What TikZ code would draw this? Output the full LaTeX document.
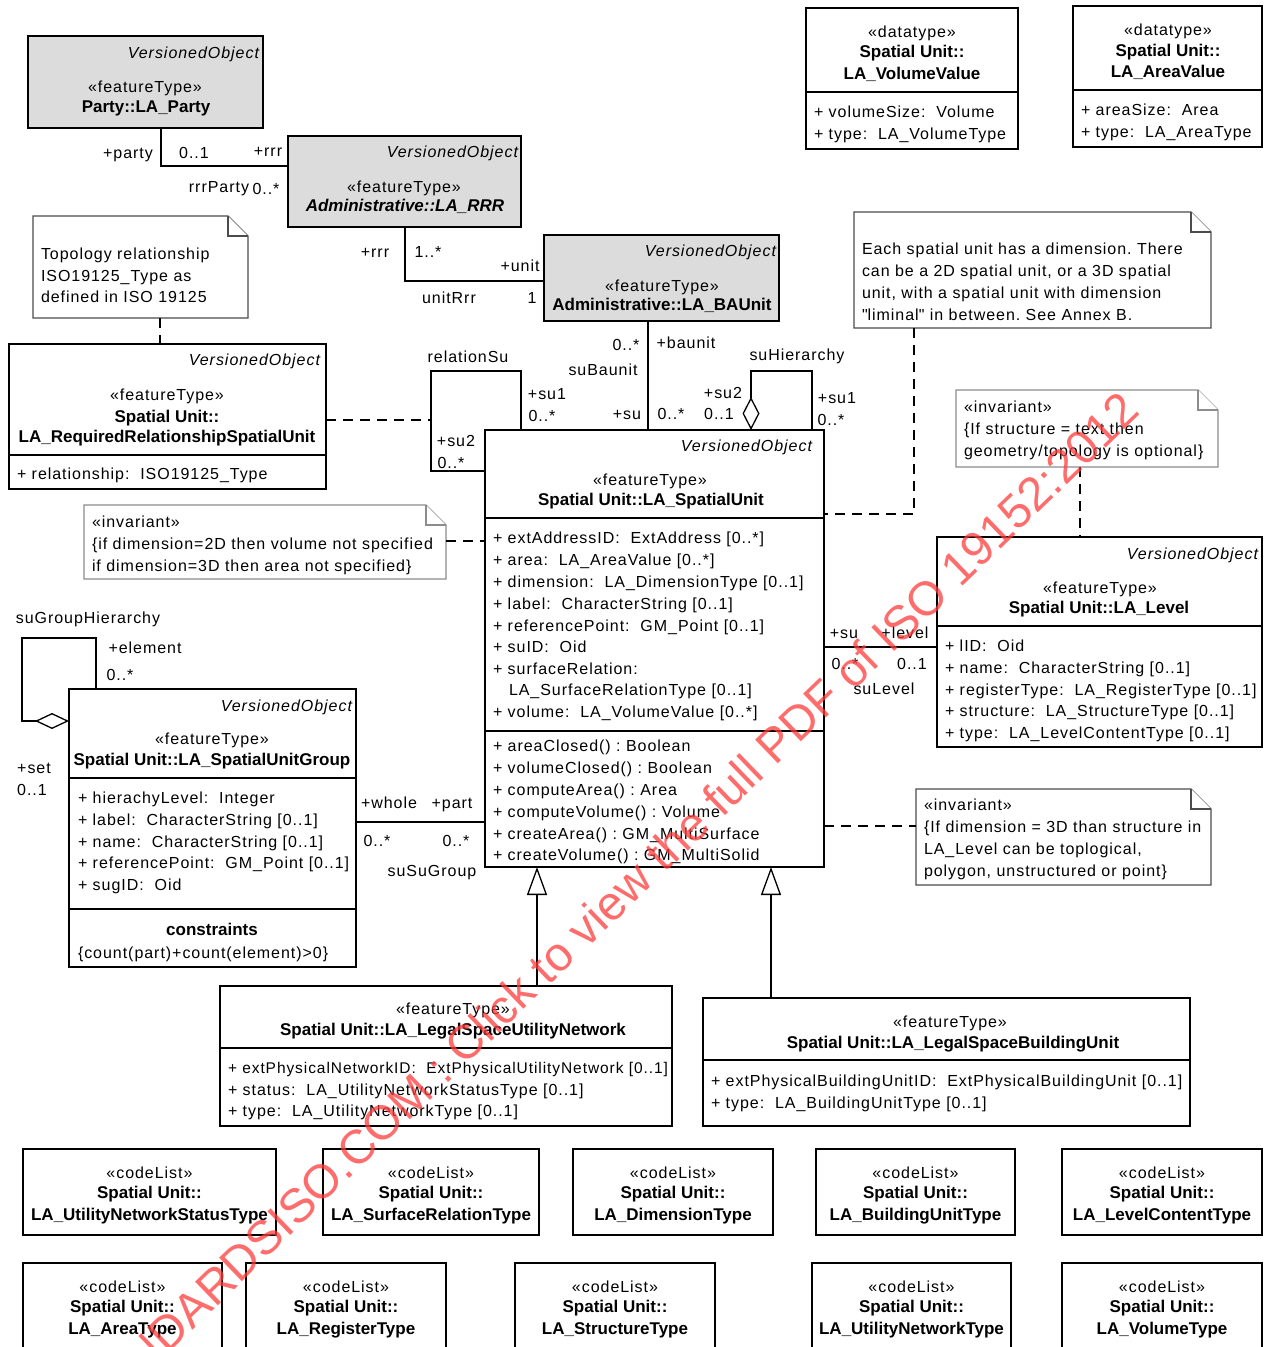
\documentclass[tikz,border=0pt]{standalone}
\usepackage{fontspec}
\setmainfont{Liberation Sans}[LetterSpace=6,BoldFeatures={LetterSpace=0},BoldItalicFeatures={LetterSpace=0}]
\newfontfamily\wmfont{Liberation Sans}
\newfontfamily\qfont{Liberation Sans}[LetterSpace=6]
\usetikzlibrary{arrows.meta}
\definecolor{gfill}{RGB}{220,220,220}
\definecolor{wmred}{RGB}{255,60,60}
\frenchspacing
\newcount\tno
\newcommand\Tx[4][]{\global\advance\tno by 1\relax\node[tx,#1] (t\the\tno) at ({#2},{#3+6}) {#4};}
\newcommand\Bx[6][]{\node[box,#1,minimum width={#4-#2},minimum height={#5-#3}] (#6) at (#2,#3) {};}
\newcommand\Sep[2]{\draw[ln] (#1.west |- 0,#2) -- (#1.east |- 0,#2);}
\newcommand\Nt[6][]{%
 \draw[note,#1] (#2,#3) -- ({#4-20},#3) -- (#4,{#3+20}) -- (#4,#5) -- (#2,#5) -- cycle;
 \draw[note,#1] ({#4-20},#3) -- ({#4-20},{#3+20}) -- (#4,{#3+20});
 \node[inner sep=0,outer sep=0,anchor=north west,minimum width={#4-#2},minimum height={#5-#3}] (#6) at (#2,#3) {};}
\newcommand\Cd[6]{%
 \Bx{#1}{#2}{#3}{#4}{#5}
 \Tx{(#1+#3)/2}{#2+23}{«codeList»}
 \Tx[bld]{(#1+#3)/2}{#2+43}{Spatial Unit::}
 \Tx[bld]{(#1+#3)/2}{#2+65}{#6}}
\newcommand\dq{{\qfont\symbol{34}}}
\begin{document}
\begin{tikzpicture}[x=1pt,y=-1pt,
  tx/.style={inner sep=0,outer sep=0,anchor=base,font=\fontsize{16}{18}\selectfont},
  lft/.style={anchor=base west},
  rgt/.style={anchor=base east},
  bld/.style={font=\fontsize{17}{18}\selectfont\bfseries},
  itl/.style={font=\fontsize{16}{18}\selectfont\itshape},
  bit/.style={font=\fontsize{17}{18}\selectfont\bfseries\itshape},
  sml/.style={font=\fontsize{15.5}{18}\selectfont},
  ln/.style={line width=1.3pt,draw=black},
  box/.style={draw=black,line width=1.3pt,inner sep=0,outer sep=0,anchor=north west,fill=white},
  gbox/.style={fill=gfill},
  note/.style={line width=1.3pt,draw=black!70,fill=white},
  lnote/.style={draw=black!45},
  dsh/.style={line width=1.3pt,dash pattern=on 10pt off 7pt},
  gen/.style={ln,-{Triangle[open,fill=white,length=28pt,width=20pt]}},
  agg/.style={ln,{Diamond[open,fill=white,length=33pt,width=17pt]}-}
]
\useasboundingbox (0,0) rectangle (1271,1347);
\fill[white] (0,0) rectangle (1271,1347);
\begin{scope}
\clip (0,0) rectangle (1271,1347);

% ---------- LA_Party
\Bx[gbox]{28}{36}{263}{128}{party}
\Tx[itl,rgt]{259}{52}{VersionedObject}
\Tx{145}{86}{«featureType»}
\Tx[bld]{146}{106}{Party::LA\_Party}

% ---------- LA_RRR
\Bx[gbox]{288}{136}{521}{227}{rrr}
\Tx[itl,rgt]{518}{151}{VersionedObject}
\Tx{404}{186}{«featureType»}
\Tx[bit]{405}{205}{Administrative::LA\_RRR}

% ---------- LA_BAUnit
\Bx[gbox]{544}{235}{779}{321}{bau}
\Tx[itl,rgt]{776}{250}{VersionedObject}
\Tx{662}{285}{«featureType»}
\Tx[bld]{662}{304}{Administrative::LA\_BAUnit}

% ---------- datatypes
\Bx{806}{8}{1018}{149}{vol}
\Sep{vol}{92}
\Tx{912}{31}{«datatype»}
\Tx[bld]{912}{51}{Spatial Unit::}
\Tx[bld]{912}{73}{LA\_VolumeValue}
\Tx[lft]{814}{111}{+ volumeSize:~ Volume}
\Tx[lft]{814}{133}{+ type:~ LA\_VolumeType}

\Bx{1073}{6}{1262}{147}{area}
\Sep{area}{90}
\Tx{1168}{29}{«datatype»}
\Tx[bld]{1168}{50}{Spatial Unit::}
\Tx[bld]{1168}{71}{LA\_AreaValue}
\Tx[lft]{1081}{109}{+ areaSize:~ Area}
\Tx[lft]{1081}{131}{+ type:~ LA\_AreaType}

% ---------- notes
\Nt{33}{216}{248}{318}{topo}
\Tx[lft]{41}{253}{Topology relationship}
\Tx[lft]{41}{275}{ISO19125\_Type as}
\Tx[lft]{41}{296}{defined in ISO 19125}

\Nt{854}{212}{1211}{328}{each}
\Tx[lft]{862}{248}{Each spatial unit has a dimension. There}
\Tx[lft]{862}{270}{can be a 2D spatial unit, or a 3D spatial}
\Tx[lft]{862}{292}{unit, with a spatial unit with dimension}
\Tx[lft]{862}{314}{\dq liminal\dq{} in between. See Annex B.}

\Nt[lnote]{956}{390}{1218}{467}{inv2}
\Tx[lft]{964}{406}{«invariant»}
\Tx[lft]{964}{428}{\{If structure = text then}
\Tx[lft]{964}{450}{geometry/topology is optional\}}

\Nt[lnote]{84}{505}{446}{579}{inv1}
\Tx[lft]{92}{521}{«invariant»}
\Tx[lft]{92}{543}{\{if dimension=2D then volume not specified}
\Tx[lft]{92}{565}{if dimension=3D then area not specified\}}

\Nt{916}{789}{1211}{885}{inv3}
\Tx[lft]{924}{804}{«invariant»}
\Tx[lft]{924}{826}{\{If dimension = 3D than structure in}
\Tx[lft]{924}{848}{LA\_Level can be toplogical,}
\Tx[lft]{924}{870}{polygon, unstructured or point\}}

% ---------- LA_RequiredRelationshipSpatialUnit
\Bx{9}{344}{326}{489}{rrsu}
\Sep{rrsu}{455}
\Tx[itl,rgt]{320}{359}{VersionedObject}
\Tx{167}{394}{«featureType»}
\Tx[bld]{167}{416}{Spatial Unit::}
\Tx[bld]{167}{436}{LA\_RequiredRelationshipSpatialUnit}
\Tx[lft]{17}{473}{+ relationship:~ ISO19125\_Type}

% ---------- LA_SpatialUnit
\Bx{485}{430}{824}{867}{su}
\Sep{su}{518}
\Sep{su}{731}
\Tx[itl,rgt]{812}{445}{VersionedObject}
\Tx{650}{479}{«featureType»}
\Tx[bld]{651}{499}{Spatial Unit::LA\_SpatialUnit}
\Tx[lft]{493}{537}{+ extAddressID:~ ExtAddress [0..*]}
\Tx[lft]{493}{559}{+ area:~ LA\_AreaValue [0..*]}
\Tx[lft]{493}{581}{+ dimension:~ LA\_DimensionType [0..1]}
\Tx[lft]{493}{603}{+ label:~ CharacterString [0..1]}
\Tx[lft]{493}{625}{+ referencePoint:~ GM\_Point [0..1]}
\Tx[lft]{493}{646}{+ suID:~ Oid}
\Tx[lft]{493}{668}{+ surfaceRelation:}
\Tx[lft]{509}{689}{LA\_SurfaceRelationType [0..1]}
\Tx[lft]{493}{711}{+ volume:~ LA\_VolumeValue [0..*]}
\Tx[lft]{493}{745}{+ areaClosed() : Boolean}
\Tx[lft]{493}{767}{+ volumeClosed() : Boolean}
\Tx[lft]{493}{789}{+ computeArea() : Area}
\Tx[lft]{493}{811}{+ computeVolume() : Volume}
\Tx[lft]{493}{833}{+ createArea() : GM\_MultiSurface}
\Tx[lft]{493}{854}{+ createVolume() : GM\_MultiSolid}

% ---------- LA_Level
\Bx{937}{537}{1262}{747}{lvl}
\Sep{lvl}{626}
\Tx[itl,rgt]{1258}{553}{VersionedObject}
\Tx{1100}{587}{«featureType»}
\Tx[bld]{1099}{607}{Spatial Unit::LA\_Level}
\Tx[lft]{945}{645}{+ lID:~ Oid}
\Tx[lft]{945}{667}{+ name:~ CharacterString [0..1]}
\Tx[lft]{945}{689}{+ registerType:~ LA\_RegisterType [0..1]}
\Tx[lft]{945}{710}{+ structure:~ LA\_StructureType [0..1]}
\Tx[lft]{945}{732}{+ type:~ LA\_LevelContentType [0..1]}

% ---------- LA_SpatialUnitGroup
\Bx{69}{689}{356}{967}{sug}
\Sep{sug}{778}
\Sep{sug}{909}
\Tx[itl,rgt]{352}{705}{VersionedObject}
\Tx{212}{738}{«featureType»}
\Tx[bld]{212}{759}{Spatial Unit::LA\_SpatialUnitGroup}
\Tx[lft]{78}{797}{+ hierachyLevel:~ Integer}
\Tx[lft]{78}{819}{+ label:~ CharacterString [0..1]}
\Tx[lft]{78}{841}{+ name:~ CharacterString [0..1]}
\Tx[lft]{78}{862}{+ referencePoint:~ GM\_Point [0..1]}
\Tx[lft]{78}{884}{+ sugID:~ Oid}
\Tx[bld]{212}{929}{constraints}
\Tx[lft]{78}{952}{\{count(part)+count(element)>0\}}

% ---------- LA_LegalSpaceUtilityNetwork
\Bx{220}{986}{672}{1126}{lsun}
\Sep{lsun}{1048}
\Tx{453}{1008}{«featureType»}
\Tx[bld]{453}{1029}{Spatial Unit::LA\_LegalSpaceUtilityNetwork}
\Tx[lft,sml]{228}{1067}{+ extPhysicalNetworkID:~ ExtPhysicalUtilityNetwork [0..1]}
\Tx[lft]{228}{1089}{+ status:~ LA\_UtilityNetworkStatusType [0..1]}
\Tx[lft]{228}{1110}{+ type:~ LA\_UtilityNetworkType [0..1]}

% ---------- LA_LegalSpaceBuildingUnit
\Bx{703}{998}{1190}{1126}{lsbu}
\Sep{lsbu}{1060}
\Tx{950}{1021}{«featureType»}
\Tx[bld]{953}{1042}{Spatial Unit::LA\_LegalSpaceBuildingUnit}
\Tx[lft]{711}{1080}{+ extPhysicalBuildingUnitID:~ ExtPhysicalBuildingUnit [0..1]}
\Tx[lft]{711}{1102}{+ type:~ LA\_BuildingUnitType [0..1]}

% ---------- code lists
\Cd{23}{1149}{276}{1235}{c1}{LA\_UtilityNetworkStatusType}
\Cd{323}{1149}{539}{1235}{c2}{LA\_SurfaceRelationType}
\Cd{573}{1149}{773}{1235}{c3}{LA\_DimensionType}
\Cd{816}{1149}{1015}{1235}{c4}{LA\_BuildingUnitType}
\Cd{1062}{1149}{1262}{1235}{c5}{LA\_LevelContentType}
\Cd{23}{1263}{222}{1370}{c6}{LA\_AreaType}
\Cd{246}{1263}{446}{1370}{c7}{LA\_RegisterType}
\Cd{515}{1263}{715}{1370}{c8}{LA\_StructureType}
\Cd{812}{1263}{1011}{1370}{c9}{LA\_UtilityNetworkType}
\Cd{1062}{1263}{1262}{1370}{c10}{LA\_VolumeType}

% ---------- connectors
% Party - RRR
\draw[ln] (161,0 |- party.south) |- (rrr.west |- 0,166);
\Tx{128}{152}{+party}
\Tx{194}{152}{0..1}
\Tx{268}{150}{+rrr}
\Tx{219}{186}{rrrParty}
\Tx{266}{188}{0..*}
% RRR - BAUnit
\draw[ln] (405,0 |- rrr.south) |- (bau.west |- 0,281);
\Tx{375}{251}{+rrr}
\Tx{428}{251}{1..*}
\Tx{520}{265}{+unit}
\Tx{449}{297}{unitRrr}
\Tx{532}{297}{1}
% BAUnit - SpatialUnit
\draw[ln] (648,0 |- bau.south) -- (648,0 |- su.north);
\Tx{626}{344}{0..*}
\Tx{686}{342}{+baunit}
\Tx{603}{369}{suBaunit}
\Tx{627}{413}{+su}
\Tx{671}{413}{0..*}
% relationSu
\coordinate (rsa) at (431,371);
\draw[ln] (521,0 |- su.north) |- (rsa) |- (su.west |- 0,471);
\Tx{468}{356}{relationSu}
\Tx{547}{393}{+su1}
\Tx{542}{415}{0..*}
\Tx{456}{440}{+su2}
\Tx{451}{462}{0..*}
\draw[dsh] (rrsu.east |- 0,420) -- (rsa |- 0,420);
% topology note
\draw[dsh] (160,0 |- topo.south) -- (160,0 |- rrsu.north);
% suHierarchy
\coordinate (sha) at (812,371);
\draw[agg] (751,0 |- su.north) |- (sha) -- (sha |- su.north);
\Tx{797}{354}{suHierarchy}
\Tx{723}{392}{+su2}
\Tx{719}{413}{0..1}
\Tx{837}{397}{+su1}
\Tx{831}{419}{0..*}
% Each-note
\draw[dsh] (914,0 |- each.south) |- (su.east |- 0,514);
% inv2 - Level
\draw[dsh] (1080,0 |- inv2.south) -- (1080,0 |- lvl.north);
% SU - Level
\draw[ln] (su.east |- 0,647) -- (lvl.west |- 0,647);
\Tx{844}{632}{+su}
\Tx{905}{632}{+level}
\Tx{845}{663}{0..*}
\Tx{912}{663}{0..1}
\Tx{884}{688}{suLevel}
% inv1 - SU
\draw[dsh] (inv1.east |- 0,541) -- (su.west |- 0,541);
% suGroupHierarchy
\coordinate (sga) at (22,638);
\draw[ln,{Diamond[open,fill=white,length=34pt,width=16pt]}-] (sug.west |- 0,721) -| (sga) -| (96,0 |- sug.north);
\Tx{88}{617}{suGroupHierarchy}
\Tx{145}{647}{+element}
\Tx{120}{674}{0..*}
\Tx{34}{767}{+set}
\Tx{32}{789}{0..1}
% SUG - SU
\draw[ln] (sug.east |- 0,822) -- (su.west |- 0,822);
\Tx{389}{802}{+whole}
\Tx{452}{802}{+part}
\Tx{377}{840}{0..*}
\Tx{456}{840}{0..*}
\Tx{432}{870}{suSuGroup}
% inv3 - SU
\draw[dsh] (su.east |- 0,826) -- (inv3.west |- 0,826);
% generalizations
\draw[gen] (537,0 |- lsun.north) -- (537,0 |- su.south);
\draw[gen] (771,0 |- lsbu.north) -- (771,0 |- su.south);

% ---------- watermark
\node[rotate=44,anchor=base east,inner sep=0,text=wmred,text opacity=0.75,font=\wmfont\fontsize{47.7}{50}\selectfont] (wm) at (1142,413) {STANDARDSISO.COM : Click to view the full PDF of ISO 19152:2012};
\end{scope}
\end{tikzpicture}
\end{document}
